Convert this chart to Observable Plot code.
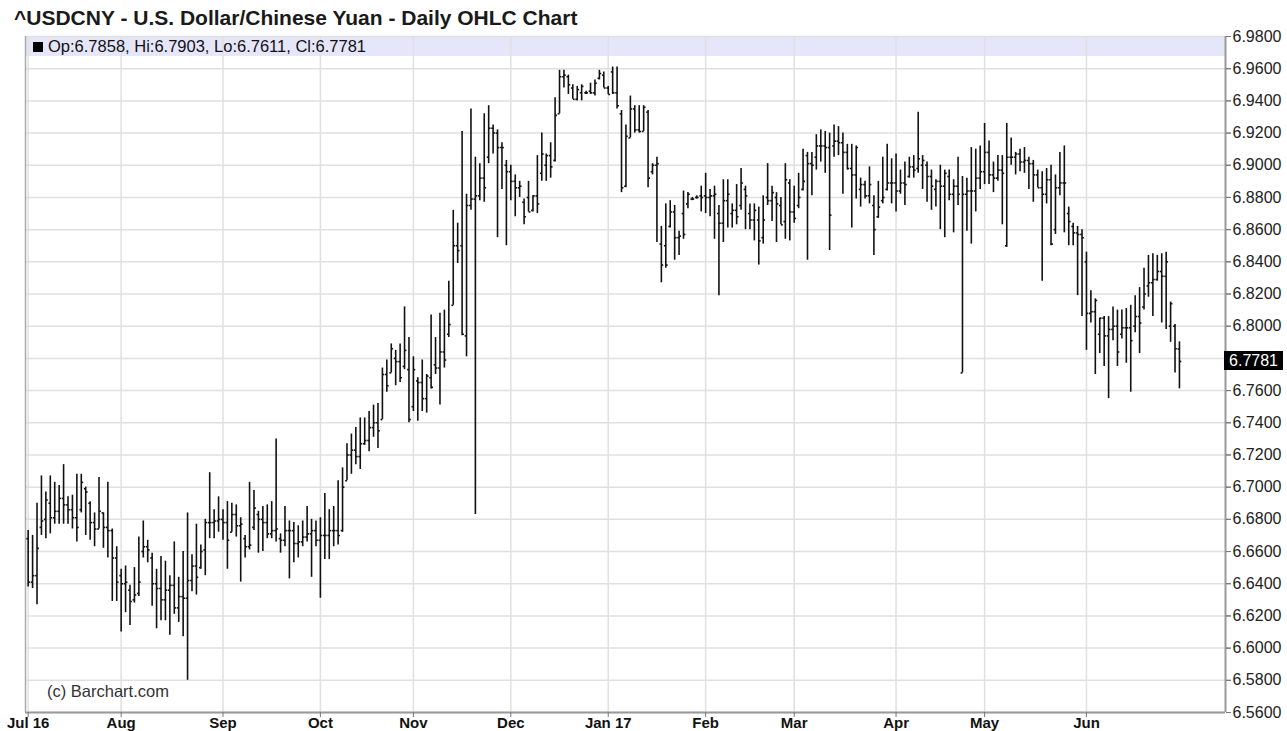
<!DOCTYPE html>
<html><head><meta charset="utf-8">
<script src="https://cdn.jsdelivr.net/npm/d3@7"></script>
<script src="https://cdn.jsdelivr.net/npm/@observablehq/plot@0.6"></script>
<style>
body{margin:0;background:#fff;font-family:"Liberation Sans",Arial,sans-serif;}
#wrap{position:relative;width:1287px;height:731px;overflow:hidden;background:#fff;}
#spacer{height:26px;}
#title{position:absolute;left:14px;top:6px;font-weight:bold;font-size:21px;line-height:24px;color:#1a1a1a;white-space:nowrap;}
#legend{position:absolute;left:33px;top:37px;font-size:16.5px;line-height:19px;color:#111;white-space:nowrap;}
#legend .sq{display:inline-block;width:10px;height:10px;background:#000;margin-right:5px;vertical-align:0px;}
#copy{position:absolute;left:47px;top:682px;font-size:16.5px;line-height:19px;color:#333;white-space:nowrap;}
#last{position:absolute;left:1224px;width:59px;height:19px;background:#000;color:#fff;font-size:16px;line-height:19px;text-align:center;}
</style></head>
<body>
<div id="wrap">
<div id="spacer"></div>
<div id="chart"></div>
<div id="title">^USDCNY - U.S. Dollar/Chinese Yuan - Daily OHLC Chart</div>
<div id="legend"><span class="sq"></span>Op:6.7858, Hi:6.7903, Lo:6.7611, Cl:6.7781</div>
<div id="copy">(c) Barchart.com</div>
<div id="last"></div>
</div>
<script>
// Daily OHLC values, trading-day index 0 = 1 Jul 2016 ... 260 = 30 Jun 2017
const opens = [
6.668,6.641,6.645,6.675,6.680,6.690,6.681,6.685,6.693,6.689,
6.686,6.681,6.686,6.699,6.690,6.678,6.674,6.684,6.675,6.673,
6.656,6.645,6.640,6.636,6.630,6.634,6.660,6.663,6.656,6.640,
6.637,6.630,6.636,6.639,6.625,6.632,6.631,6.642,6.651,6.650,
6.661,6.678,6.678,6.679,6.680,6.678,6.672,6.683,6.676,6.668,
6.663,6.675,6.683,6.680,6.678,6.671,6.673,6.668,6.667,6.673,
6.673,6.665,6.666,6.669,6.671,6.673,6.667,6.670,6.670,6.673,
6.673,6.673,6.704,6.720,6.723,6.719,6.727,6.729,6.737,6.740,
6.742,6.770,6.771,6.780,6.778,6.775,6.773,6.750,6.766,6.765,
6.755,6.768,6.776,6.774,6.784,6.795,6.813,6.850,6.850,6.794,
6.875,6.879,6.881,6.892,6.905,6.923,6.920,6.911,6.900,6.896,
6.890,6.886,6.877,6.880,6.872,6.881,6.895,6.900,6.906,6.903,
6.932,6.955,6.955,6.948,6.941,6.945,6.945,6.946,6.945,6.954,
6.956,6.948,6.958,6.945,6.932,6.887,6.917,6.935,6.922,6.921,
6.933,6.896,6.900,6.851,6.850,6.862,6.871,6.855,6.870,6.876,
6.879,6.880,6.881,6.881,6.880,6.881,6.870,6.864,6.878,6.870,
6.872,6.875,6.885,6.870,6.866,6.866,6.855,6.880,6.878,6.880,
6.875,6.865,6.889,6.871,6.875,6.885,6.906,6.901,6.905,6.912,
6.912,6.911,6.912,6.915,6.914,6.908,6.898,6.894,6.885,6.888,
6.881,6.875,6.868,6.878,6.885,6.889,6.889,6.884,6.889,6.893,
6.899,6.898,6.900,6.900,6.893,6.885,6.890,6.887,6.893,6.882,
6.887,6.771,6.882,6.884,6.884,6.892,6.896,6.908,6.894,6.892,
6.897,6.850,6.905,6.905,6.907,6.902,6.903,6.901,6.894,6.886,
6.882,6.891,6.860,6.886,6.889,6.870,6.862,6.858,6.857,6.840,
6.808,6.809,6.795,6.805,6.794,6.798,6.800,6.795,6.799,6.799,
6.800,6.806,6.812,6.825,6.827,6.829,6.834,6.831,6.800,6.800,
6.7858];
const highs = [
6.673,6.670,6.690,6.707,6.697,6.707,6.703,6.701,6.714,6.694,
6.695,6.708,6.708,6.700,6.691,6.684,6.706,6.684,6.703,6.674,
6.663,6.649,6.651,6.639,6.650,6.669,6.679,6.667,6.659,6.649,
6.657,6.654,6.645,6.666,6.644,6.660,6.684,6.658,6.677,6.664,
6.680,6.709,6.686,6.694,6.686,6.691,6.690,6.689,6.681,6.670,
6.703,6.698,6.685,6.688,6.689,6.691,6.730,6.671,6.688,6.679,
6.678,6.676,6.679,6.688,6.680,6.679,6.681,6.696,6.686,6.688,
6.704,6.712,6.727,6.733,6.737,6.743,6.743,6.747,6.751,6.752,
6.774,6.779,6.789,6.785,6.789,6.812,6.793,6.781,6.768,6.779,
6.770,6.807,6.793,6.808,6.810,6.828,6.872,6.864,6.921,6.882,
6.935,6.905,6.901,6.932,6.937,6.925,6.922,6.914,6.903,6.900,
6.894,6.890,6.879,6.890,6.881,6.906,6.920,6.907,6.914,6.942,
6.959,6.959,6.956,6.950,6.949,6.950,6.946,6.951,6.953,6.959,
6.958,6.949,6.961,6.961,6.934,6.925,6.943,6.937,6.937,6.937,
6.934,6.901,6.905,6.862,6.876,6.878,6.875,6.859,6.884,6.883,
6.880,6.881,6.887,6.895,6.885,6.887,6.875,6.891,6.891,6.876,
6.888,6.898,6.887,6.876,6.876,6.874,6.881,6.901,6.887,6.883,
6.880,6.901,6.891,6.887,6.895,6.910,6.908,6.908,6.919,6.922,
6.921,6.920,6.925,6.924,6.920,6.913,6.913,6.912,6.892,6.890,
6.899,6.881,6.890,6.905,6.913,6.904,6.907,6.897,6.902,6.905,
6.906,6.933,6.906,6.902,6.897,6.891,6.900,6.897,6.897,6.891,
6.905,6.893,6.892,6.911,6.910,6.912,6.926,6.915,6.902,6.906,
6.906,6.926,6.917,6.908,6.910,6.911,6.905,6.903,6.897,6.896,
6.898,6.900,6.894,6.908,6.912,6.874,6.864,6.862,6.860,6.846,
6.822,6.817,6.805,6.806,6.806,6.812,6.810,6.810,6.811,6.813,
6.819,6.824,6.836,6.844,6.845,6.844,6.845,6.846,6.815,6.801,
6.7903];
const lows = [
6.638,6.637,6.627,6.670,6.668,6.671,6.677,6.677,6.677,6.677,
6.674,6.666,6.684,6.670,6.667,6.663,6.674,6.662,6.656,6.629,
6.629,6.610,6.622,6.614,6.628,6.632,6.656,6.653,6.626,6.612,
6.617,6.617,6.608,6.621,6.616,6.607,6.580,6.635,6.633,6.649,
6.645,6.668,6.668,6.672,6.667,6.649,6.672,6.669,6.641,6.656,
6.661,6.673,6.659,6.660,6.668,6.668,6.666,6.659,6.663,6.643,
6.653,6.656,6.663,6.666,6.644,6.663,6.631,6.655,6.655,6.663,
6.664,6.672,6.704,6.708,6.714,6.711,6.726,6.722,6.731,6.724,
6.742,6.759,6.771,6.763,6.765,6.773,6.740,6.747,6.741,6.747,
6.746,6.761,6.770,6.751,6.774,6.793,6.813,6.839,6.794,6.781,
6.872,6.683,6.878,6.877,6.901,6.907,6.855,6.885,6.850,6.878,
6.868,6.880,6.863,6.871,6.871,6.870,6.890,6.890,6.892,6.902,
6.932,6.948,6.944,6.941,6.940,6.940,6.944,6.944,6.943,6.953,
6.948,6.944,6.944,6.935,6.883,6.886,6.917,6.920,6.920,6.921,
6.886,6.894,6.852,6.827,6.836,6.861,6.841,6.844,6.854,6.873,
6.878,6.879,6.871,6.870,6.868,6.854,6.819,6.852,6.861,6.861,
6.863,6.872,6.860,6.860,6.853,6.838,6.851,6.875,6.865,6.852,
6.863,6.854,6.853,6.864,6.873,6.884,6.841,6.881,6.897,6.902,
6.895,6.847,6.905,6.906,6.882,6.897,6.861,6.879,6.874,6.879,
6.876,6.844,6.867,6.876,6.884,6.876,6.871,6.882,6.875,6.892,
6.892,6.895,6.885,6.877,6.872,6.874,6.860,6.855,6.878,6.858,
6.875,6.771,6.859,6.851,6.871,6.885,6.888,6.888,6.883,6.890,
6.863,6.849,6.900,6.894,6.896,6.895,6.885,6.877,6.886,6.828,
6.876,6.850,6.857,6.881,6.858,6.850,6.850,6.819,6.806,6.785,
6.802,6.770,6.783,6.775,6.755,6.791,6.775,6.792,6.777,6.759,
6.796,6.783,6.810,6.818,6.806,6.828,6.802,6.798,6.790,6.771,
6.7611];
const closes = [
6.641,6.645,6.662,6.679,6.692,6.681,6.685,6.693,6.689,6.686,
6.681,6.675,6.703,6.697,6.678,6.674,6.685,6.675,6.673,6.656,
6.641,6.640,6.641,6.629,6.633,6.641,6.663,6.661,6.640,6.637,
6.630,6.636,6.639,6.625,6.632,6.631,6.642,6.651,6.644,6.660,
6.678,6.678,6.679,6.680,6.678,6.667,6.683,6.676,6.677,6.663,
6.664,6.687,6.680,6.678,6.671,6.673,6.674,6.667,6.673,6.673,
6.665,6.666,6.669,6.671,6.673,6.667,6.670,6.670,6.673,6.673,
6.670,6.700,6.720,6.723,6.719,6.727,6.729,6.737,6.740,6.735,
6.770,6.763,6.786,6.778,6.768,6.785,6.742,6.773,6.765,6.755,
6.769,6.762,6.774,6.784,6.779,6.801,6.850,6.847,6.795,6.875,
6.879,6.881,6.892,6.886,6.923,6.920,6.911,6.911,6.896,6.890,
6.886,6.887,6.868,6.871,6.881,6.876,6.907,6.906,6.899,6.931,
6.955,6.956,6.950,6.941,6.947,6.949,6.945,6.945,6.951,6.957,
6.948,6.944,6.945,6.937,6.886,6.918,6.935,6.922,6.921,6.936,
6.892,6.900,6.901,6.838,6.838,6.871,6.855,6.856,6.857,6.882,
6.879,6.880,6.880,6.880,6.881,6.882,6.864,6.878,6.882,6.872,
6.868,6.889,6.881,6.866,6.872,6.853,6.866,6.878,6.883,6.876,
6.863,6.891,6.871,6.867,6.880,6.890,6.901,6.900,6.912,6.912,
6.911,6.869,6.915,6.914,6.908,6.898,6.894,6.911,6.888,6.881,
6.888,6.860,6.874,6.880,6.889,6.889,6.884,6.889,6.888,6.899,
6.897,6.904,6.903,6.893,6.887,6.890,6.887,6.895,6.882,6.887,
6.882,6.882,6.884,6.884,6.892,6.896,6.908,6.894,6.892,6.897,
6.895,6.905,6.905,6.907,6.902,6.903,6.901,6.894,6.886,6.882,
6.891,6.851,6.886,6.889,6.889,6.865,6.858,6.857,6.855,6.808,
6.809,6.816,6.805,6.794,6.798,6.800,6.784,6.799,6.799,6.791,
6.806,6.802,6.820,6.827,6.829,6.834,6.831,6.840,6.814,6.786,
6.7781];

// Month tick positions (trading-day index) and their labels
const monthTickIndex = [0, 21, 44, 66, 87, 109, 131, 153, 173, 196, 216, 239];
const monthTickLabel = ["Jul 16", "Aug", "Sep", "Oct", "Nov", "Dec", "Jan 17", "Feb", "Mar", "Apr", "May", "Jun"];
// Price axis ticks
const priceTicks = [6.56, 6.58, 6.60, 6.62, 6.64, 6.66, 6.68, 6.70, 6.72, 6.74, 6.76, 6.78, 6.80,
                    6.82, 6.84, 6.86, 6.88, 6.90, 6.92, 6.94, 6.96, 6.98];

const bars = closes.map((c, i) => ({i, o: opens[i], h: highs[i], l: lows[i], c}));
const labelOf = new Map(monthTickIndex.map((d, k) => [d, monthTickLabel[k]]));
const last = closes[closes.length - 1];
// the last-price box hides the price label it sits on
const priceLabels = priceTicks.filter(t => Math.abs(t - last) > 0.008);

function hasFont(name) {
  const ctx = document.createElement("canvas").getContext("2d");
  const s = "Jan 17 Aug Sep Oct";
  ctx.font = "bold 40px monospace"; const a = ctx.measureText(s).width;
  ctx.font = `bold 40px '${name}', monospace`; const b = ctx.measureText(s).width;
  return Math.abs(a - b) > 0.5;
}
const narrow = hasFont("Liberation Sans Narrow");
const monthFont = narrow ? "'Liberation Sans Narrow', sans-serif" : "'Liberation Sans', Arial, sans-serif";
const monthSize = narrow ? 17.5 : 15;

const xDomain = [-0.6, 270.4];
const yDomain = [6.56, 6.98];
const band = [{x1: xDomain[0], x2: xDomain[1], y1: 6.98, y2: 6.9676}];
const halfTick = 0.42;
const barColor = "#111";
const titleH = 26;

const plot = Plot.plot({
  width: 1287,
  height: 705,
  marginLeft: 25,
  marginRight: 62,
  marginTop: 10,
  marginBottom: 19,
  x: {type: "linear", domain: xDomain, axis: null},
  y: {type: "linear", domain: yDomain, axis: null},
  style: {background: "#fff", fontFamily: "'Liberation Sans', Arial, sans-serif", color: "#222", overflow: "visible"},
  marks: [
    Plot.rect(band, {x1: "x1", x2: "x2", y1: "y1", y2: "y2", fill: "#e6e6fa"}),
    Plot.gridY(priceTicks, {stroke: "#e0e0e0", strokeOpacity: 1, strokeWidth: 1.5}),
    Plot.gridX(monthTickIndex, {stroke: "#e0e0e0", strokeOpacity: 1, strokeWidth: 1.5}),
    Plot.ruleX([xDomain[0]], {stroke: "#aaa", strokeWidth: 1.5}),
    Plot.ruleX([xDomain[1]], {stroke: "#999", strokeWidth: 2}),
    Plot.ruleY([yDomain[0]], {stroke: "#999", strokeWidth: 2}),
    Plot.ruleX(bars, {x: "i", y1: "l", y2: "h", stroke: barColor, strokeWidth: 1.6}),
    Plot.link(bars, {x1: d => d.i - halfTick, x2: "i", y1: "o", y2: "o", stroke: barColor, strokeWidth: 1.6}),
    Plot.link(bars, {x1: "i", x2: d => d.i + halfTick, y1: "c", y2: "c", stroke: barColor, strokeWidth: 1.6}),
    Plot.axisY(priceTicks, {anchor: "right", tickSize: 5, text: null, stroke: "#777"}),
    Plot.axisY(priceLabels, {anchor: "right", tickFormat: d3.format(".4f"), tickSize: 5, tickPadding: 2,
      fontSize: 16, stroke: "#777", fill: "#222"}),
    Plot.axisX(monthTickIndex, {anchor: "bottom", tickFormat: d => labelOf.get(d), tickSize: 5, tickPadding: 0,
      fontSize: monthSize, fontWeight: "bold", fontFamily: monthFont, stroke: "#777", fill: "#111"})
  ]
});
document.getElementById("chart").appendChild(plot);

const lastBox = document.getElementById("last");
lastBox.textContent = d3.format(".4f")(last);
lastBox.style.top = (plot.scale("y").apply(last) + titleH - 9.5) + "px";
</script>
</body></html>
